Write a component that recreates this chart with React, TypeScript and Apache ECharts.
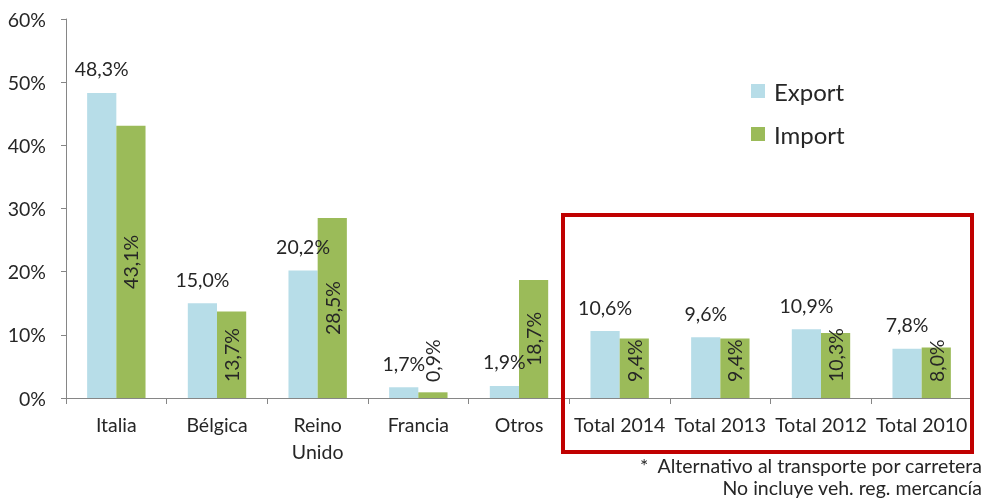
import React, { useEffect, useRef } from "react";
import * as echarts from "echarts";

const categories = ["Italia", "Bélgica", "Reino\nUnido", "Francia", "Otros", "Total 2014", "Total 2013", "Total 2012", "Total 2010"];
const exportValues = [48.3, 15.0, 20.2, 1.7, 1.9, 10.6, 9.6, 10.9, 7.8];
const importValues = [43.1, 13.7, 28.5, 0.9, 18.7, 9.4, 9.4, 10.3, 8.0];
const yTicks = [0, 10, 20, 30, 40, 50, 60];
const footnotes = ["*  Alternativo al transporte por carretera", "No incluye veh. reg. mercancía"];

const FONT = "Lato, 'Liberation Sans', sans-serif";
const TXT = "#262626";
const FS = 19.5;
const fmt = (v: number) => v.toFixed(1).replace(".", ",") + "%";

export default function App() {
  const ref = useRef<HTMLDivElement>(null);
  useEffect(() => {
    if (!ref.current) return;
    const chart = echarts.init(ref.current, undefined, { renderer: "svg" });
    chart.setOption({
      animation: false,
      textStyle: { fontFamily: FONT },
      grid: { left: 66, right: 12, top: 19, bottom: 101, containLabel: false },
      legend: {
        orient: "vertical",
        left: 746,
        top: 74,
        itemWidth: 14,
        itemHeight: 14,
        itemGap: 19,
        icon: "rect",
        textStyle: { fontFamily: FONT, fontSize: 24, color: TXT, padding: [0, 0, 0, 4] },
        data: ["Export", "Import"],
      },
      xAxis: {
        type: "category",
        data: categories,
        axisLine: { lineStyle: { color: "#868686", width: 1 } },
        axisTick: { show: true, length: 6, lineStyle: { color: "#868686" } },
        axisLabel: { color: TXT, fontSize: FS, fontFamily: FONT, margin: 13, lineHeight: 27, interval: 0 },
      },
      yAxis: {
        type: "value",
        min: 0,
        max: yTicks[yTicks.length - 1],
        interval: 10,
        splitLine: { show: false },
        axisLine: { show: true, lineStyle: { color: "#868686", width: 1 } },
        axisTick: { show: true, length: 5, lineStyle: { color: "#868686" } },
        axisLabel: { color: TXT, fontSize: FS, fontFamily: FONT, margin: 20, formatter: (v: number) => v + "%" },
      },
      series: [
        {
          name: "Export",
          type: "bar",
          barGap: "0%",
          barCategoryGap: "42%",
          itemStyle: { color: "#B7DDE8" },
          label: {
            show: true,
            position: "top",
            distance: 14,
            color: TXT,
            fontSize: FS,
            fontFamily: FONT,
            formatter: (p: any) => fmt(p.value),
          },
          data: exportValues,
        },
        {
          name: "Import",
          type: "bar",
          barGap: "0%",
          barCategoryGap: "42%",
          itemStyle: { color: "#9BBB59" },
          label: {
            show: true,
            rotate: 90,
            position: "inside",
            color: TXT,
            fontSize: FS,
            fontFamily: FONT,
            formatter: (p: any) => fmt(p.value),
          },
          data: importValues.map((v) =>
            v >= 14
              ? { value: v }
              : {
                  value: v,
                  label: { position: "insideBottom", distance: 16, align: "left", verticalAlign: "middle" },
                }
          ),
        },
      ],
      graphic: [
        {
          type: "rect",
          shape: { x: 563, y: 215, width: 409, height: 237 },
          style: { fill: "none", stroke: "#C00000", lineWidth: 4 },
          z: 100,
        },
        {
          type: "text",
          x: 982,
          y: 465,
          style: { text: footnotes[0], fontSize: 19.5, fontFamily: FONT, fill: TXT, textAlign: "right", textVerticalAlign: "middle" },
        },
        {
          type: "text",
          x: 982,
          y: 487,
          style: { text: footnotes[1], fontSize: 19.5, fontFamily: FONT, fill: TXT, textAlign: "right", textVerticalAlign: "middle" },
        },
      ],
    });
    return () => chart.dispose();
  }, []);
  return <div ref={ref} style={{ position: "fixed", left: 0, top: 0, width: 984, height: 499 }} />;
}
